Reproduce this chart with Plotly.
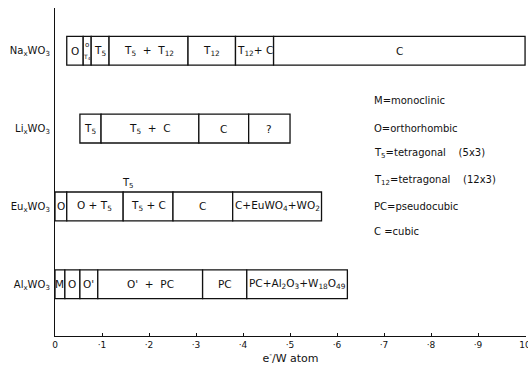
import plotly.graph_objects as go

# Phase regions of tungsten bronzes MxWO3 versus electrons per W atom
rows = ["Na<sub>x</sub>WO<sub>3</sub>", "Li<sub>x</sub>WO<sub>3</sub>",
        "Eu<sub>x</sub>WO<sub>3</sub>", "Al<sub>x</sub>WO<sub>3</sub>"]
row_pos = [3, 2, 1, 0]

na_edges = [0.025, 0.060, 0.077, 0.115, 0.283, 0.384, 0.465, 1.0]
na_labels = ["O", "", "T<sub>5</sub>", "T<sub>5</sub>  +  T<sub>12</sub>",
             "T<sub>12</sub>", "T<sub>12</sub>+ C", "C"]

li_edges = [0.053, 0.098, 0.306, 0.412, 0.500]
li_labels = ["T<sub>5</sub>", "T<sub>5</sub>  +  C", "C", "?"]

eu_edges = [0.0, 0.025, 0.145, 0.251, 0.378, 0.567]
eu_labels = ["O", "O + T<sub>5</sub>", "T<sub>5</sub> + C", "C",
             "C+EuWO<sub>4</sub>+WO<sub>2</sub>"]

al_edges = [0.0, 0.021, 0.053, 0.091, 0.314, 0.408, 0.622]
al_labels = ["M", "O", "O'", "O'  +  PC", "PC",
             "PC+Al<sub>2</sub>O<sub>3</sub>+W<sub>18</sub>O<sub>49</sub>"]

x_ticks = [0, 0.1, 0.2, 0.3, 0.4, 0.5, 0.6, 0.7, 0.8, 0.9, 1.0]
x_tick_text = ["0", "·1", "·2", "·3", "·4", "·5", "·6", "·7", "·8", "·9", "10"]

key_lines = ["M=monoclinic", "O=orthorhombic",
             "T<sub>5</sub>=tetragonal    (5x3)",
             "T<sub>12</sub>=tetragonal    (12x3)",
             "PC=pseudocubic", "C =cubic"]

FONT = "DejaVu Sans"
INK = "#111111"

fig = go.Figure()
annotations = []

series = [(na_edges, na_labels), (li_edges, li_labels),
          (eu_edges, eu_labels), (al_edges, al_labels)]

for (edges, labels), yv in zip(series, row_pos):
    starts = edges[:-1]
    widths = [b - a for a, b in zip(edges[:-1], edges[1:])]
    fig.add_trace(go.Bar(
        orientation="h", y=[yv] * len(starts), x=widths, base=starts,
        width=0.37, marker=dict(color="white", line=dict(color=INK, width=1.3)),
        showlegend=False, hoverinfo="skip"))
    for a, b, lab in zip(edges[:-1], edges[1:], labels):
        if lab:
            annotations.append(dict(x=(a + b) / 2, y=yv, text=lab, showarrow=False,
                                    xref="x", yref="y",
                                    font=dict(family=FONT, size=10.5, color=INK)))

# narrow O / T4 cell in the sodium row
na_mid = (na_edges[1] + na_edges[2]) / 2
annotations.append(dict(x=na_mid, y=3.08, text="o", showarrow=False, xref="x", yref="y",
                        font=dict(family=FONT, size=7, color=INK)))
annotations.append(dict(x=na_mid, y=2.92, text="T<sub>4</sub>", showarrow=False,
                        xref="x", yref="y", font=dict(family=FONT, size=6, color=INK)))

# T5 marker above the europium row boundary
annotations.append(dict(x=eu_edges[2] + 0.01, y=1.30, text="T<sub>5</sub>", showarrow=False,
                        xref="x", yref="y", font=dict(family=FONT, size=10, color=INK)))

# key to the phase symbols
key_y = [0.718, 0.632, 0.555, 0.475, 0.396, 0.319]
for txt, ky in zip(key_lines, key_y):
    annotations.append(dict(x=0.673, y=ky, xref="paper", yref="paper", text=txt,
                            xanchor="left", yanchor="middle", showarrow=False,
                            font=dict(family=FONT, size=10, color=INK)))

fig.update_layout(
    width=528, height=366,
    margin=dict(l=55, r=2, t=8, b=30),
    paper_bgcolor="white", plot_bgcolor="white",
    barmode="overlay",
    annotations=annotations,
    font=dict(family=FONT, size=10, color=INK),
    xaxis=dict(range=[0, 1.002], tickvals=x_ticks, ticktext=x_tick_text,
               showline=True, linecolor=INK, linewidth=1.3, showgrid=False,
               zeroline=False, ticks="inside", ticklen=3, tickcolor=INK,
               ticklabeloverflow="allow", automargin=False,
               tickfont=dict(family=FONT, size=9),
               title=dict(text="e<sup>-</sup>/W atom", standoff=2,
                          font=dict(family=FONT, size=11))),
    yaxis=dict(range=[-0.666, 3.55], tickvals=row_pos, ticktext=rows,
               showline=True, linecolor=INK, linewidth=1.3, showgrid=False,
               zeroline=False, ticks="", ticklabelstandoff=2, automargin=False,
               tickfont=dict(family=FONT, size=10)),
)

fig.write_html("out.html")
